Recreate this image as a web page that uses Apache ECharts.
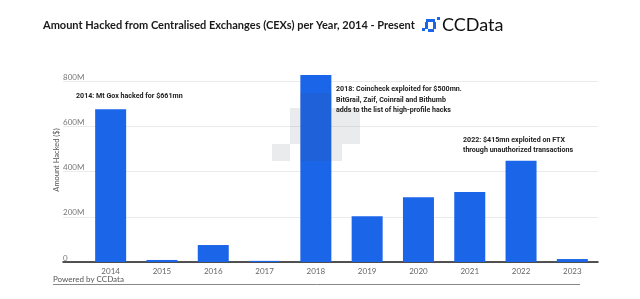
<!DOCTYPE html>
<html>
<head>
<meta charset="utf-8">
<script src="https://cdn.jsdelivr.net/npm/echarts@6/dist/echarts.min.js"></script>
<style>
  html, body { margin: 0; padding: 0; background: #fff; }
  #chart { width: 640px; height: 299px; }
</style>
</head>
<body>
<div id="chart"></div>
<script>
const years = ['2014', '2015', '2016', '2017', '2018', '2019', '2020', '2021', '2022', '2023']
// amount hacked, millions of USD
const hacked = [675, 9, 75, 5, 826, 202, 286, 309, 448, 13]
const yTicks = [0, 200, 400, 600, 800]

const blue = '#1a65e8'
const font = 'Lato'

const myChart = echarts.init(document.getElementById('chart'))

// faint pixel watermark behind the 2018 bar
const wm = [
  [272, 144, 18, 17], [290, 108, 10, 36], [300, 93, 32, 68],
  [332, 108, 28, 36], [332, 144, 10, 17]
].map(r => ({
  type: 'rect', z: 50,
  shape: { x: r[0], y: r[1], width: r[2], height: r[3] },
  style: { fill: 'rgba(60,70,90,0.11)' }
}))

const note = (x, y, text) => ({
  type: 'text', x: x, y: y, z: 100,
  style: { text: text, fontSize: 7.1, lineHeight: 10.5, fontWeight: 'bold', fill: '#222', fontFamily: 'Roboto', verticalAlign: 'middle' }
})

myChart.setOption({
  animation: false,
  textStyle: { fontFamily: font },
  grid: [
    { left: 63, right: 42, top: 81, bottom: 37 },
    { left: 85, right: 42, top: 81, bottom: 37 }
  ],
  xAxis: [
    {
      gridIndex: 0, type: 'category', data: years,
      axisLine: { lineStyle: { color: '#1b1b1b', width: 1.5 } },
      axisTick: { show: false }, axisLabel: { show: false }
    },
    {
      gridIndex: 1, type: 'category', data: years,
      axisLine: { show: false }, axisTick: { show: false },
      axisLabel: { color: '#666', fontSize: 8, margin: 5 }
    }
  ],
  yAxis: [
    {
      gridIndex: 0, type: 'value', min: yTicks[0], max: yTicks[yTicks.length - 1], interval: 200,
      axisLine: { show: false }, axisTick: { show: false },
      axisLabel: {
        inside: true, margin: 0, verticalAlign: 'bottom', color: '#777', fontSize: 8,
        formatter: v => v === 0 ? '0' : v + 'M'
      },
      splitLine: { lineStyle: { color: '#ebebeb' } }
    },
    {
      gridIndex: 1, type: 'value', min: 0, max: 800, show: false,
      splitLine: { show: false }
    }
  ],
  series: [
    {
      type: 'bar', xAxisIndex: 1, yAxisIndex: 1,
      data: hacked, barWidth: 31, clip: false,
      itemStyle: { color: blue }
    }
  ],
  graphic: [
    ...wm,
    {
      type: 'text', x: 43, y: 25,
      style: { text: 'Amount Hacked from Centralised Exchanges (CEXs) per Year, 2014 - Present', fontSize: 11, fontWeight: 'bold', fill: '#1a1a1a', fontFamily: font, verticalAlign: 'middle' }
    },
    {
      type: 'text', x: 57, y: 160, rotation: Math.PI / 2,
      style: { text: 'Amount Hacked ($)', fontSize: 7.5, fill: '#555', fontFamily: font, align: 'center', verticalAlign: 'middle' }
    },
    { type: 'rect', shape: { x: 422, y: 28, width: 3, height: 3 }, style: { fill: blue } },
    { type: 'rect', shape: { x: 426, y: 19, width: 9, height: 3 }, style: { fill: blue } },
    { type: 'rect', shape: { x: 425, y: 22, width: 3, height: 7 }, style: { fill: blue } },
    { type: 'rect', shape: { x: 433, y: 22, width: 3, height: 7 }, style: { fill: blue } },
    { type: 'rect', shape: { x: 428, y: 29, width: 6, height: 3 }, style: { fill: blue } },
    { type: 'rect', shape: { x: 437, y: 17, width: 3, height: 3 }, style: { fill: blue } },
    {
      type: 'text', x: 442, y: 25,
      style: { text: 'CCData', fontSize: 18, fill: '#111', fontFamily: font, verticalAlign: 'middle' }
    },
    note(76, 96, '2014: Mt Gox hacked for $661mn'),
    note(336, 100, '2018: Coincheck exploited for $500mn.\nBitGrail, Zaif, Coinrail and Bithumb\nadds to the list of high-profile hacks'),
    note(463, 145, '2022: $415mn exploited on FTX\nthrough unauthorized transactions'),
    {
      type: 'text', x: 53, y: 279,
      style: { text: 'Powered by CCData', fontSize: 8, fill: '#555', fontFamily: font, verticalAlign: 'middle' }
    },
    { type: 'line', shape: { x1: 53, y1: 284.5, x2: 580, y2: 284.5 }, style: { stroke: '#888', lineWidth: 1 } }
  ]
})
</script>
</body>
</html>
